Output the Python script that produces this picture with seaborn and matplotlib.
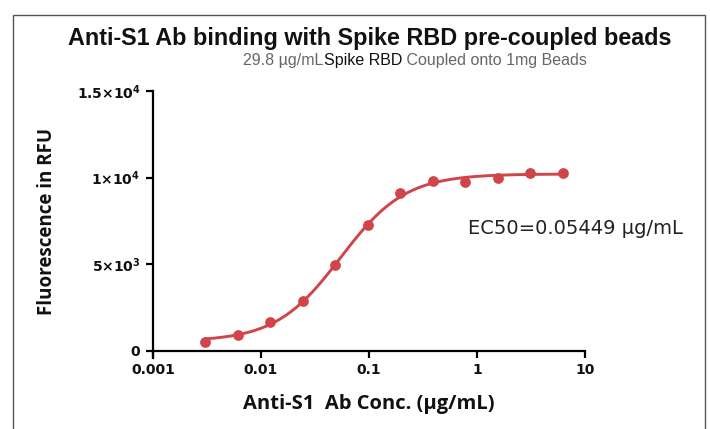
import numpy as np
import pandas as pd
import matplotlib
matplotlib.use("Agg")
import matplotlib.pyplot as plt
import seaborn as sns
from matplotlib.patches import Rectangle

# ---- data ----
conc = [0.00305, 0.0061, 0.0122, 0.0244, 0.0488, 0.0977, 0.195, 0.39, 0.78, 1.5625, 3.125, 6.25]
rfu = [537, 930, 1690, 2900, 4960, 7270, 9090, 9830, 9750, 9965, 10290, 10260]
ec50 = 0.05449
x_ticks = [0.001, 0.01, 0.1, 1, 10]
x_ticklabels = ["0.001", "0.01", "0.1", "1", "10"]
y_ticks = [0, 5000, 10000, 15000]
y_ticklabels = [r"$\mathbf{0}$", r"$\mathbf{5{\times}10^{3}}$", r"$\mathbf{1{\times}10^{4}}$", r"$\mathbf{1.5{\times}10^{4}}$"]
title = "Anti-S1 Ab binding with Spike RBD pre-coupled beads"
sub_parts = [("29.8 µg/mL", "#666666"), ("Spike RBD", "#111111"), (" Coupled onto 1mg Beads", "#666666")]
xlabel = "Anti-S1  Ab Conc. (μg/mL)"
ylabel = "Fluorescence in RFU"
ec50_label = "EC50=0.05449 µg/mL"

RED = "#d0444a"

# ---- 4PL fit (EC50 fixed), bottom/top by least squares, hill by grid search ----
xd = np.array(conc)
yd = np.array(rfu, dtype=float)
best = None
for h in np.linspace(0.5, 3.0, 501):
    f = 1.0 / (1.0 + (ec50 / xd) ** h)
    A = np.column_stack([1 - f, f])
    coef, *_ = np.linalg.lstsq(A, yd, rcond=None)
    err = np.sum((A @ coef - yd) ** 2)
    if best is None or err < best[0]:
        best = (err, h, coef)
_, hill, (bottom, top) = best
xc = np.logspace(np.log10(conc[0]), np.log10(conc[-1]), 300)
yc = bottom + (top - bottom) / (1.0 + (ec50 / xc) ** hill)

pts = pd.DataFrame({"conc": conc, "rfu": rfu})
curve = pd.DataFrame({"conc": xc, "rfu": yc})

sns.set_theme(style="ticks")
plt.rcParams["font.family"] = ["DejaVu Sans"]
plt.rcParams["mathtext.fontset"] = "dejavusans"

fig = plt.figure(figsize=(7.10, 4.29), dpi=100)
ax = fig.add_axes([153 / 710, 1 - 351 / 429, (585 - 153) / 710, (351 - 91) / 429])

sns.lineplot(data=curve, x="conc", y="rfu", ax=ax, color=RED, linewidth=2.1, zorder=2)
sns.scatterplot(data=pts, x="conc", y="rfu", ax=ax, color=RED, s=60, edgecolor=RED, linewidth=0, zorder=3)

ax.set_xscale("log")
ax.set_xlim(0.001, 10)
ax.set_ylim(0, 15000)
ax.set_xticks(x_ticks)
ax.set_xticklabels(x_ticklabels)
ax.set_yticks(y_ticks)
ax.set_yticklabels(y_ticklabels)
ax.minorticks_off()
ax.xaxis.set_minor_locator(matplotlib.ticker.NullLocator())
for lab in ax.get_xticklabels():
    lab.set_fontweight("bold")
    lab.set_fontsize(10)
    lab.set_color("#111111")
for lab in ax.get_yticklabels():
    lab.set_fontsize(10)
    lab.set_color("#111111")
ax.tick_params(axis="both", direction="out", length=5, width=1.6, color="black", pad=4)
for s in ["left", "bottom"]:
    ax.spines[s].set_linewidth(1.6)
    ax.spines[s].set_color("black")
ax.spines["left"].set_bounds(-400, 15000)
ax.spines["right"].set_visible(False)
ax.spines["top"].set_visible(False)
ax.set_xlabel(xlabel, fontsize=14.5, fontweight="bold", family="Open Sans", labelpad=12, color="#111111")
ax.set_ylabel(ylabel, fontsize=13.5, fontweight="bold", family="Open Sans", labelpad=14, color="#111111")
ax.grid(False)

ax.text(0.73, 0.47, ec50_label, transform=ax.transAxes, fontsize=14, family="DejaVu Sans", color="#222222",
        ha="left", va="center")

# frame
fig.add_artist(Rectangle((13 / 710, -0.01), (705 - 13) / 710, (429 - 15) / 429 + 0.01, transform=fig.transFigure,
                         fill=False, edgecolor="#555555", linewidth=1.0))

# title
fig.text(370 / 710, 1 - 38 / 429, title, ha="center", va="center", fontsize=16.8, fontweight="bold",
         family="Liberation Sans", color="#111111")

# subtitle in colored parts, centered
fig.canvas.draw()
renderer = fig.canvas.get_renderer()
texts = []
for s, c in sub_parts:
    t = fig.text(0, 1 - 60 / 429, s, ha="left", va="center", fontsize=11.5, family="Liberation Sans", color=c)
    texts.append(t)
widths = []
for t in texts:
    bb = t.get_window_extent(renderer=renderer)
    widths.append(bb.width / fig.bbox.width)
total = sum(widths)
x0 = 415 / 710 - total / 2
for t, w in zip(texts, widths):
    t.set_x(x0)
    x0 += w

fig.savefig("out.png", dpi=100)
